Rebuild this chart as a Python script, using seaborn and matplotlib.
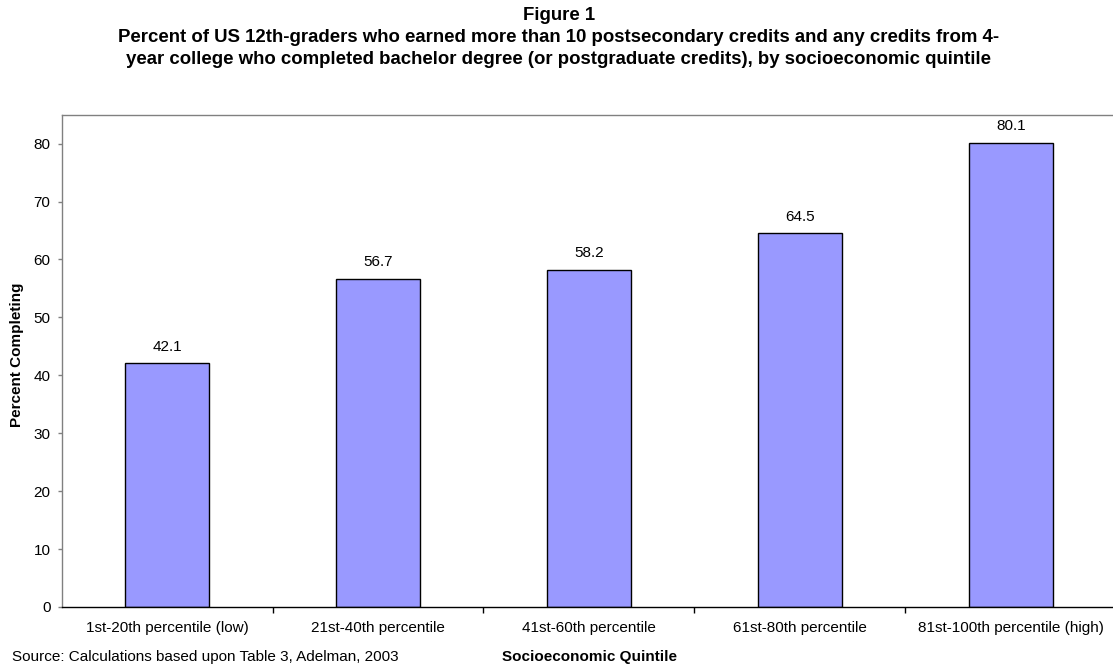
import matplotlib
matplotlib.use("Agg")
import matplotlib.pyplot as plt
import seaborn as sns
import pandas as pd

# Completion rates by socioeconomic quintile
quintiles = [
    "1st-20th percentile (low)",
    "21st-40th percentile",
    "41st-60th percentile",
    "61st-80th percentile",
    "81st-100th percentile (high)",
]
percent_completing = [42.1, 56.7, 58.2, 64.5, 80.1]
y_ticks = [0, 10, 20, 30, 40, 50, 60, 70, 80]

sns.set_theme(style="white")
plt.rcParams["font.family"] = ["Liberation Sans", "DejaVu Sans"]
plt.rcParams["text.color"] = "black"
plt.rcParams["xtick.color"] = "black"
plt.rcParams["ytick.color"] = "black"

df = pd.DataFrame({"Quintile": quintiles, "Percent": percent_completing})

W, H = 1113, 667
fig = plt.figure(figsize=(W / 100, H / 100), dpi=100)
left, right, top, bottom = 61.5, 1116.5, 114.7, 607.0
ax = fig.add_axes([left / W, 1 - bottom / H, (right - left) / W, (bottom - top) / H])

sns.barplot(data=df, x="Quintile", y="Percent", ax=ax, color="#9999FF",
            saturation=1, edgecolor="black", linewidth=1.0, width=0.4)

for i, v in enumerate(percent_completing):
    ax.annotate(f"{v:.1f}", (i, v), xytext=(0, 12), textcoords="offset points",
                ha="center", va="center", fontsize=11, color="black")

ax.set_xlim(-0.5, len(quintiles) - 0.5)
ax.set_ylim(0, 85)
ax.set_yticks(y_ticks)
ax.set_yticklabels([str(t) for t in y_ticks])

# Category separators on the x axis instead of centred ticks
ax.set_xticks(range(len(quintiles)))
ax.set_xticklabels(quintiles, fontsize=11)
ax.tick_params(axis="x", which="major", length=0, pad=10)
ax.set_xticks([i + 0.5 for i in range(len(quintiles) - 1)], minor=True)
ax.tick_params(axis="x", which="minor", bottom=True, direction="out",
               length=4, width=1, color="black")
ax.tick_params(axis="y", direction="out", length=3, width=1, color="#808080",
               labelsize=11, pad=5, left=True)

for side in ["top", "right", "left"]:
    ax.spines[side].set_color("#808080")
    ax.spines[side].set_linewidth(1.0)
ax.spines["bottom"].set_color("black")
ax.spines["bottom"].set_linewidth(1.0)

ax.set_xlabel("")
ax.set_ylabel("")
fig.text(17 / W, 1 - 355 / H, "Percent Completing", rotation=90, ha="center",
         va="center", fontsize=11, fontweight="bold")
fig.text(590 / W, 1 - 657 / H, "Socioeconomic Quintile",
         ha="center", va="center", fontsize=11, fontweight="bold")
fig.text(12.5 / W, 1 - 657 / H, "Source: Calculations based upon Table 3, Adelman, 2003",
         ha="left", va="center", fontsize=11)

title_x = 559 / W
fig.text(title_x, 1 - 16 / H, "Figure 1", ha="center", va="center",
         fontsize=13.4, fontweight="bold")
fig.text(title_x, 1 - 38 / H,
         "Percent of US 12th-graders who earned more than 10 postsecondary credits and any credits from 4-",
         ha="center", va="center", fontsize=13.4, fontweight="bold")
fig.text(title_x, 1 - 60 / H,
         "year college who completed bachelor degree (or postgraduate credits), by socioeconomic quintile",
         ha="center", va="center", fontsize=13.4, fontweight="bold")

fig.savefig("out.png", dpi=100, facecolor="white")
